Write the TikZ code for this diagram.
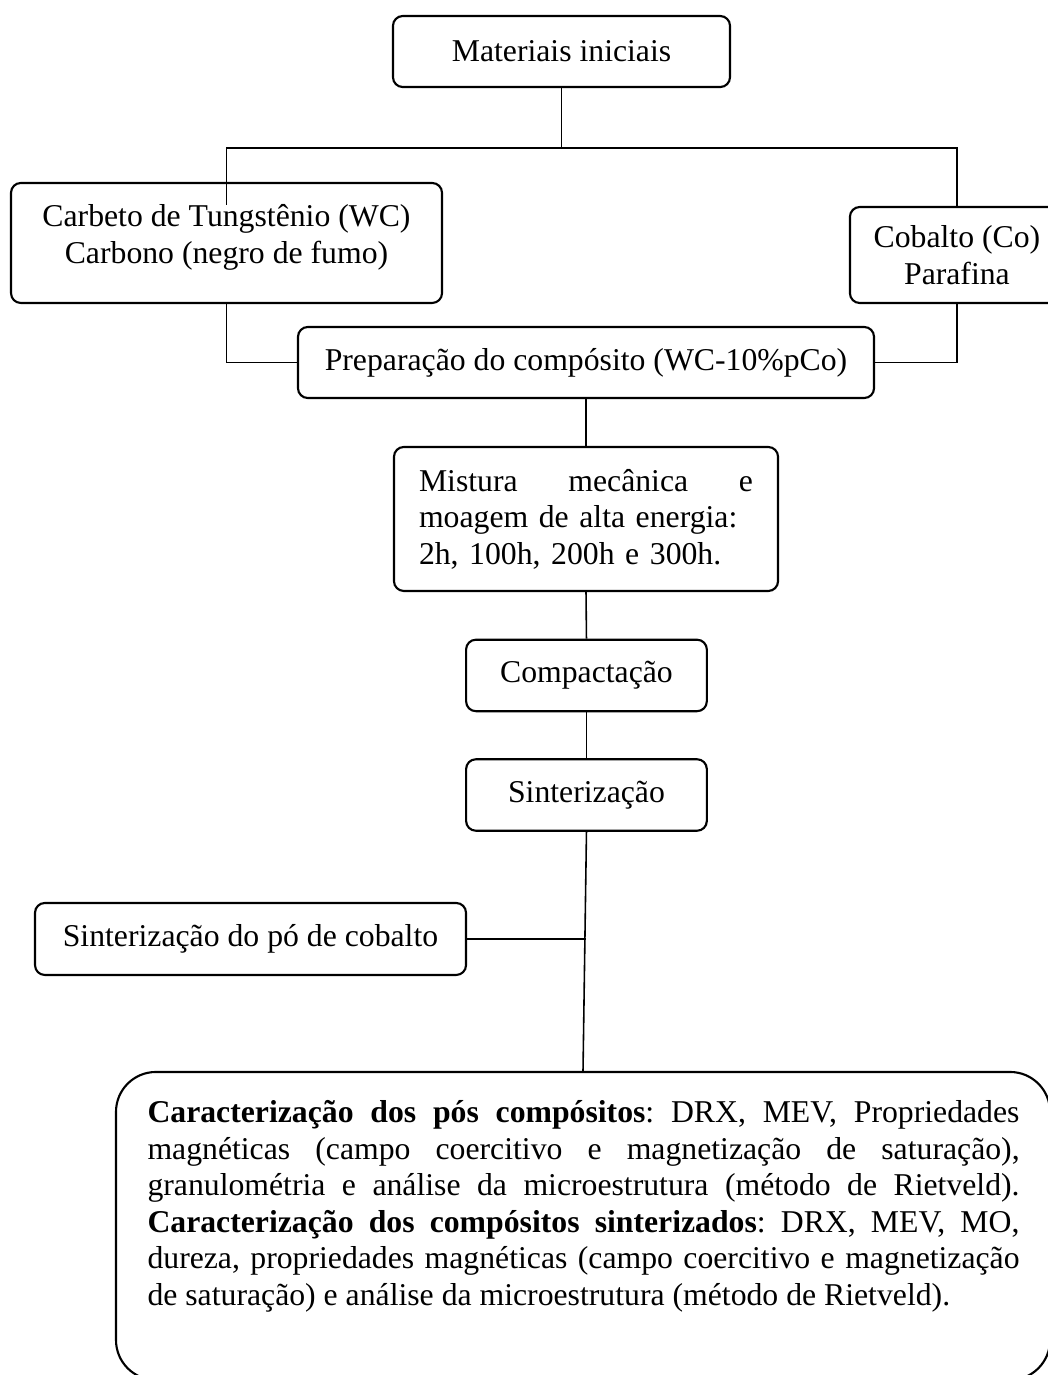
\documentclass[tikz,border=0pt]{standalone}
\usepackage{fontspec}
\setmainfont{Liberation Serif}
\frenchspacing
\tikzset{
  box/.style={draw=black, line width=.8pt, rounded corners=1.3mm, fill=white, align=center, inner sep=0pt},
  stage/.style={box, minimum width=3.20cm, minimum height=.95cm},
  link/.style={draw=black, line width=.6pt}
}
\begin{document}
\begin{tikzpicture}[x=1cm,y=1cm,font=\fontsize{12}{13.8}\selectfont]
\useasboundingbox (0,0) rectangle (13.931,18.278);

% Starting materials
\node[box, minimum width=4.48cm, minimum height=.944cm] (mat) at (7.464,17.593) {Materiais iniciais};
\node[box, minimum width=5.729cm, minimum height=1.595cm] (carb) at (3.011,15.048)
  {Carbeto de Tungstênio (WC)\\ Carbono (negro de fumo)\\[-.25cm]\mbox{}};
\node[box, minimum width=2.845cm, minimum height=1.276cm] (cob) at (12.721,14.888)
  {Cobalto (Co)\\ Parafina};
\coordinate (fork) at (7.464,16.311);
\coordinate (carbin) at (3.011,15.553);
\draw[link] (mat.south) -- (fork);
\draw[link] (carbin) |- (fork) -| (cob.north);

% Composite preparation
\node[box, minimum width=7.657cm, minimum height=.944cm] (prep) at (7.79,13.459)
  {Preparação do compósito (WC-10\%pCo)};
\draw[link] (carb.south) |- (prep.west);
\draw[link] (cob.south) |- (prep.east);
\node[box, minimum width=5.105cm, minimum height=1.914cm, text width=4.44cm, align=left] (mist) at (7.79,11.379)
  {Mistura \hfill mecânica \hfill e\\ moagem de alta energia:\\ 2h, 100h, 200h e 300h.};
\node[stage] (comp) at (7.796,9.299) {Compactação};
\node[stage] (sint) at (7.796,7.71) {Sinterização};
\draw[link] (prep.south) -- (mist.north);
\draw[link] (mist.south) -- (comp.north);
\draw[link] (comp.south) -- (sint.north);

% Characterisation
\node[box, minimum width=5.729cm, minimum height=.957cm] (sintpo) at (3.33,5.796) {Sinterização do pó de cobalto};
\node[box, rounded corners=5.3mm, minimum width=12.416cm, minimum height=4.094cm] (charac) at (7.75,1.981) {};
\node[anchor=north west, inner sep=0pt, text width=11.592cm, align=justify] (charactext) at (1.954,3.656)
  {\sloppy\textbf{Caracterização dos pós compósitos}: DRX, MEV, Propriedades\linebreak
   magnéticas (campo coercitivo e magnetização de saturação),\linebreak
   granulométria e análise da microestrutura (método de Rietveld).\linebreak
   \textbf{Caracterização dos compósitos sinterizados}: DRX, MEV, MO,\linebreak
   dureza, propriedades magnéticas (campo coercitivo e magnetização\linebreak
   de saturação) e análise da microestrutura (método de Rietveld).};
\draw[link] (sint.south) -- (charac.north);
\draw[link] (sintpo.east) -- (sintpo.east -| sint.south);

\end{tikzpicture}
\end{document}
